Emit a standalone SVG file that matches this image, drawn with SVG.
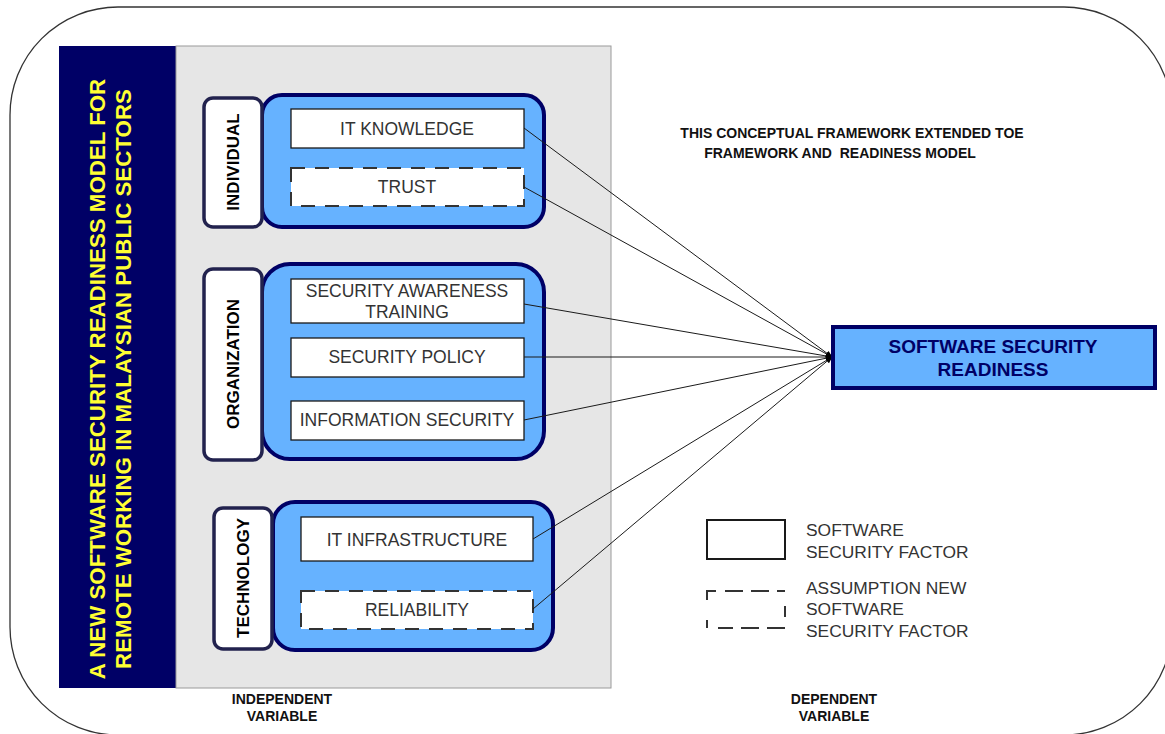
<svg xmlns="http://www.w3.org/2000/svg" width="1165" height="734" viewBox="0 0 1165 734">
  <style>
    .outer { fill: #ffffff; stroke: #333333; stroke-width: 1.3; }
    .title { font-family: "Liberation Sans", Arial, sans-serif; font-weight: bold; font-size: 22.3px; fill: #ffff33; }
    .cat { fill: #ffffff; stroke: #22224e; stroke-width: 3.5; }
    .catlabel { font-family: "Liberation Sans", Arial, sans-serif; font-weight: bold; font-size: 17px; fill: #000000; }
    .group { fill: #66b2ff; stroke: #000066; stroke-width: 4; }
    .factor { fill: #ffffff; stroke: #1a1a1a; stroke-width: 1.3; }
    .assume { fill: #ffffff; stroke: #333333; stroke-width: 2; stroke-dasharray: 14 10; }
    .ftext { font-family: "Liberation Sans", Arial, sans-serif; font-size: 17.5px; fill: #333333; text-anchor: middle; }
    .note { font-family: "Liberation Sans", Arial, sans-serif; font-weight: bold; font-size: 14px; fill: #111111; text-anchor: middle; }
    .legend { font-family: "Liberation Sans", Arial, sans-serif; font-size: 17.4px; fill: #333333; }
    .link { stroke: #1a1a1a; stroke-width: 1; fill: none; marker-end: url(#head); }
  </style>
  <defs>
    <marker id="head" viewBox="0 0 10 10" refX="9" refY="5" markerWidth="7" markerHeight="7" orient="auto" markerUnits="userSpaceOnUse">
      <path d="M0,1 L10,5 L0,9 z" fill="#000000"/>
    </marker>
  </defs>

  <!-- outer frame -->
  <rect class="outer" x="10" y="7" width="1162" height="728" rx="108" ry="108"/>

  <!-- title band and independent-variable panel -->
  <g id="title-band">
    <rect x="59" y="46" width="117" height="642" fill="#000066"/>
    <text class="title" text-anchor="middle" transform="translate(105,379) rotate(-90)">A NEW SOFTWARE SECURITY READINESS MODEL FOR</text>
    <text class="title" text-anchor="middle" transform="translate(131,379) rotate(-90)">REMOTE WORKING IN MALAYSIAN PUBLIC SECTORS</text>
  </g>
  <g id="independent-panel">
    <rect x="176" y="46" width="435" height="642" fill="#e6e6e6" stroke="#9a9a9a" stroke-width="1"/>
  </g>

  <!-- Individual -->
  <g id="individual">
    <rect class="group" x="262" y="95" width="282" height="132" rx="20" ry="20"/>
    <rect class="cat" x="204" y="98" width="58" height="129" rx="9" ry="9"/>
    <text class="catlabel" text-anchor="middle" transform="translate(239,162) rotate(-90)">INDIVIDUAL</text>
  </g>
  <g id="it-knowledge">
    <rect class="factor" x="291" y="109" width="233" height="39"/>
    <text class="ftext" x="407" y="135">IT KNOWLEDGE</text>
  </g>
  <g id="trust">
    <rect class="assume" x="291" y="168" width="233" height="38"/>
    <text class="ftext" x="407" y="193">TRUST</text>
  </g>

  <!-- Organization -->
  <g id="organization">
    <rect class="group" x="262" y="264" width="282" height="195" rx="28" ry="28"/>
    <rect class="cat" x="204" y="269" width="58" height="191" rx="9" ry="9"/>
    <text class="catlabel" text-anchor="middle" transform="translate(239,364) rotate(-90)">ORGANIZATION</text>
  </g>
  <g id="security-awareness-training">
    <rect class="factor" x="291" y="279" width="233" height="44"/>
    <text class="ftext" x="407" y="297">SECURITY AWARENESS</text>
    <text class="ftext" x="407" y="318">TRAINING</text>
  </g>
  <g id="security-policy">
    <rect class="factor" x="291" y="338" width="233" height="39"/>
    <text class="ftext" x="407" y="363">SECURITY POLICY</text>
  </g>
  <g id="information-security">
    <rect class="factor" x="291" y="401" width="233" height="39"/>
    <text class="ftext" x="407" y="426">INFORMATION SECURITY</text>
  </g>

  <!-- Technology -->
  <g id="technology">
    <rect class="group" x="273" y="502" width="280" height="148" rx="22" ry="22"/>
    <rect class="cat" x="214" y="508" width="58" height="141" rx="9" ry="9"/>
    <text class="catlabel" text-anchor="middle" transform="translate(249,578) rotate(-90)">TECHNOLOGY</text>
  </g>
  <g id="it-infrastructure">
    <rect class="factor" x="301" y="517" width="232" height="44"/>
    <text class="ftext" x="417" y="546">IT INFRASTRUCTURE</text>
  </g>
  <g id="reliability">
    <rect class="assume" x="301" y="591" width="232" height="38"/>
    <text class="ftext" x="417" y="616">RELIABILITY</text>
  </g>

  <!-- connectors -->
  <g id="connectors">
    <line class="link" x1="524" y1="128" x2="832" y2="357"/>
    <line class="link" x1="524" y1="187" x2="832" y2="357"/>
    <line class="link" x1="524" y1="304" x2="832" y2="357"/>
    <line class="link" x1="524" y1="357" x2="832" y2="357"/>
    <line class="link" x1="524" y1="420" x2="832" y2="357"/>
    <line class="link" x1="533" y1="539" x2="832" y2="357"/>
    <line class="link" x1="533" y1="609" x2="832" y2="357"/>
  </g>

  <!-- dependent variable -->
  <g id="software-security-readiness">
    <rect x="833" y="327" width="322" height="61" fill="#66b2ff" stroke="#000066" stroke-width="4"/>
    <text x="993" y="353" text-anchor="middle" font-family="Liberation Sans, Arial, sans-serif" font-weight="bold" font-size="19" fill="#000066">SOFTWARE SECURITY</text>
    <text x="993" y="376" text-anchor="middle" font-family="Liberation Sans, Arial, sans-serif" font-weight="bold" font-size="19" fill="#000066">READINESS</text>
  </g>

  <!-- notes -->
  <g id="framework-note">
    <text class="note" x="852" y="138">THIS CONCEPTUAL FRAMEWORK EXTENDED TOE</text>
    <text class="note" x="840" y="158" xml:space="preserve">FRAMEWORK AND  READINESS MODEL</text>
  </g>
  <g id="independent-label">
    <text class="note" x="282" y="704">INDEPENDENT</text>
    <text class="note" x="282" y="721">VARIABLE</text>
  </g>
  <g id="dependent-label">
    <text class="note" x="834" y="704">DEPENDENT</text>
    <text class="note" x="834" y="721">VARIABLE</text>
  </g>

  <!-- legend -->
  <g id="legend">
    <rect x="707" y="520" width="78" height="39" fill="#ffffff" stroke="#1a1a1a" stroke-width="2"/>
    <text class="legend" x="806" y="536">SOFTWARE</text>
    <text class="legend" x="806" y="558">SECURITY FACTOR</text>
    <path d="M707,600 V591 H716 M725,591 H743 M751,591 H769 M777,591 H785 M785,606 V617 M785,628 H767 M759,628 H741 M733,628 H718 M707,628 V620" fill="none" stroke="#333333" stroke-width="2"/>
    <text class="legend" x="806" y="594">ASSUMPTION NEW</text>
    <text class="legend" x="806" y="615">SOFTWARE</text>
    <text class="legend" x="806" y="637">SECURITY FACTOR</text>
  </g>
</svg>
